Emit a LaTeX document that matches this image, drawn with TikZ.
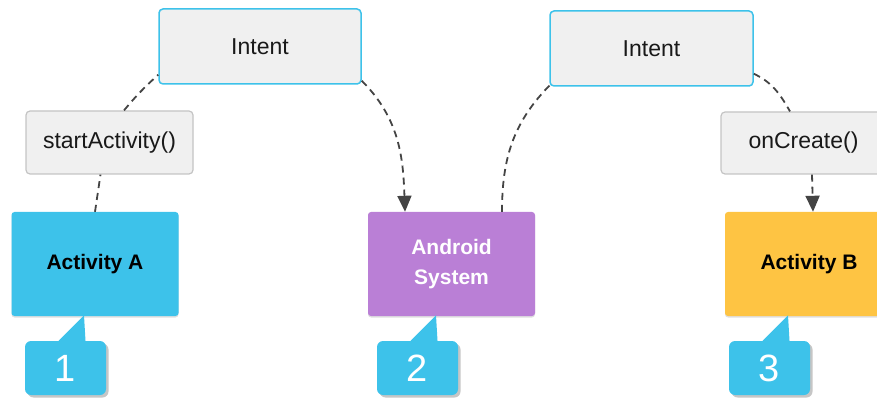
\documentclass[tikz,border=0pt]{standalone}
\usepackage{fontspec}
\setmainfont{Liberation Sans}
\usetikzlibrary{shadows,arrows.meta}
\definecolor{droidblue}{RGB}{61,194,234}
\definecolor{droidpurple}{RGB}{186,127,214}
\definecolor{droidyellow}{RGB}{254,196,67}
\definecolor{boxgray}{RGB}{240,240,240}
\definecolor{linegray}{RGB}{196,196,196}
\definecolor{dashgray}{RGB}{68,68,68}
\tikzstyle{rec} = [rectangle,rounded corners=4pt,fill=boxgray,text=black!90,text centered,font=\fontsize{23}{26}\selectfont]

\begin{document}
\begin{tikzpicture}
		[
		x=1pt,y=1pt,
		comp/.style={
		rectangle,
		rounded corners=3pt,
		minimum width=167pt,
		minimum height=104pt,
		align=center,
		font=\bfseries\fontsize{21}{30}\selectfont,
		drop shadow={shadow xshift=0pt,shadow yshift=-1.5pt,opacity=0.25}},
		badge/.style={
		rectangle,
		rounded corners=6pt,
		fill=droidblue,
		text=white,
		minimum width=81pt,
		minimum height=54pt,
		font=\fontsize{38}{38}\selectfont,
		drop shadow={shadow xshift=2.5pt,shadow yshift=-2.5pt,opacity=0.45}},
		link/.style={draw=dashgray,line width=1.8pt,dash pattern=on 7pt off 5pt},
		tip/.style={-{Triangle[width=14pt,length=16pt]}}
		]
		\useasboundingbox (0,0) rectangle (877,399);
		% message boxes
		\node[rec,draw=droidblue,line width=1.5pt,minimum width=202pt,minimum height=75pt](intent_a) at (260,352.5) {Intent};
		\node[rec,draw=linegray,line width=1.2pt,minimum width=167pt,minimum height=63pt](start_activity) at (109.5,256.5) {startActivity()};
		\node[rec,draw=droidblue,line width=1.5pt,minimum width=203pt,minimum height=75pt](intent_b) at (651.5,350.5) {Intent};
		\node[rec,draw=linegray,line width=1.2pt,minimum width=165pt,minimum height=62pt](on_create) at (803.5,256) {onCreate()};
		% components
		\node[comp,fill=droidblue](activity_a) at (95,135) {Activity A};
		\node[comp,fill=droidpurple,text=white](android_system) at (451.5,135) {Android\\System};
		\node[comp,fill=droidyellow,minimum width=168pt](activity_b) at (809,135) {Activity B};
		% numbered badges
		\node[badge](badge_1) at (65.5,31) {1};
		\node[badge](badge_2) at (417.5,31) {2};
		\node[badge](badge_3) at (769.5,31) {3};
		\foreach \n in {1,2,3}
		\fill[droidblue] ([xshift=-7pt]badge_\n.north) -- ([xshift=18.5pt,yshift=25.5pt]badge_\n.north) -- ([xshift=20pt]badge_\n.north) -- cycle;
		% connectors
		\draw[link] (activity_a.north) -- ([xshift=-9pt]start_activity.south);
		\draw[link] ([xshift=14.5pt]start_activity.north) to[bend left=4] ([yshift=10pt]intent_a.south west);
		\draw[link,tip] ([yshift=4pt]intent_a.south east) to[out=-45,in=92] ([xshift=-46.5pt]android_system.north);
		\draw[link] ([xshift=50.5pt]android_system.north) to[out=90,in=225] ([xshift=2pt,yshift=3pt]intent_b.south west);
		\draw[link] ([yshift=13pt]intent_b.south east) to[out=-25,in=120] ([xshift=-13.5pt]on_create.north);
		\draw[link,tip] ([xshift=8.5pt]on_create.south) -- ([xshift=4pt]activity_b.north);
\end{tikzpicture}
\end{document}
